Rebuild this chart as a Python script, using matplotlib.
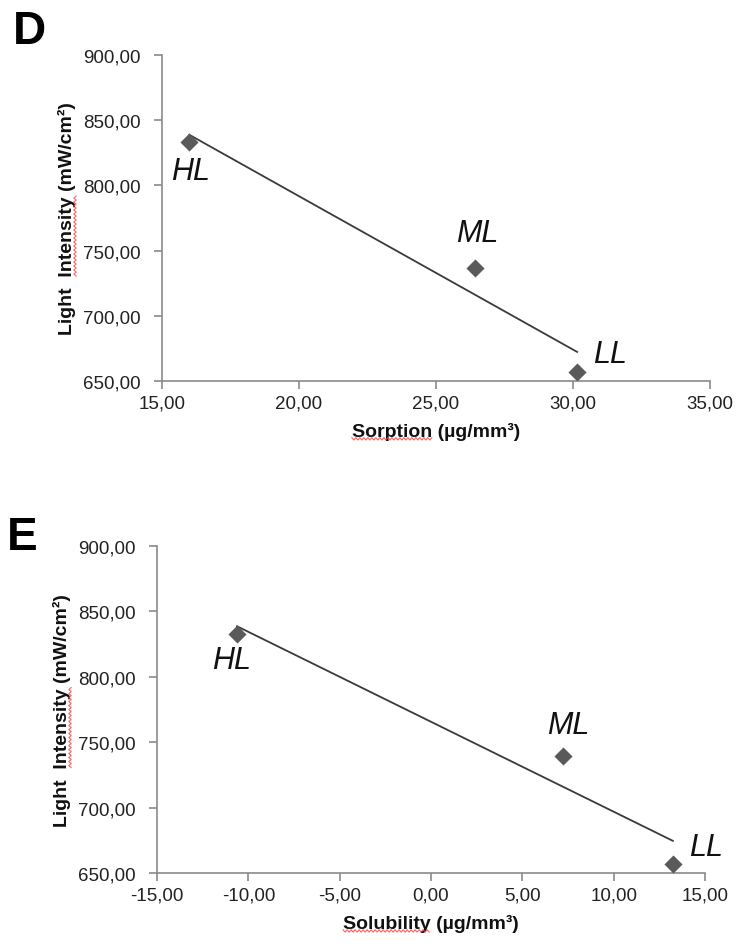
import numpy as np
import matplotlib
matplotlib.use("Agg")
import matplotlib.pyplot as plt
from matplotlib.ticker import FuncFormatter, MultipleLocator
from matplotlib.lines import Line2D
from matplotlib.transforms import IdentityTransform
from matplotlib.font_manager import FontProperties

plt.rcParams['font.family'] = ['Liberation Sans', 'DejaVu Sans']

# ---- data ----
groups = ["HL", "ML", "LL"]
sorption = [16.00, 26.42, 30.15]
solubility = [-10.62, 7.22, 13.24]
intensity_D = [833.3, 737.0, 657.0]
intensity_E = [832.7, 739.5, 657.0]
yticks = [650, 700, 750, 800, 850, 900]
xticks_D = [15, 20, 25, 30, 35]
xticks_E = [-15, -10, -5, 0, 5, 10, 15]

# label offsets (points) for each group label per panel
offs_D = [(1, -21), (2, 25), (24, 13)]
offs_E = [(-4, -19), (4, 22), (24, 12)]

W, H = 738, 945
fig = plt.figure(figsize=(W / 100, H / 100), dpi=100)

spine_c = "#8a8a8a"
fmt = FuncFormatter(lambda v, p: f"{v:.2f}".replace(".", ","))


def setup(ax, xt, xlabel, ylabel):
    for s in ["top", "right"]:
        ax.spines[s].set_visible(False)
    for s in ["left", "bottom"]:
        ax.spines[s].set_color(spine_c)
        ax.spines[s].set_linewidth(1.2)
    ax.set_xlim(xt[0], xt[-1])
    ax.set_ylim(yticks[0], yticks[-1])
    ax.set_xticks(xt)
    ax.set_yticks(yticks)
    ax.xaxis.set_major_formatter(fmt)
    ax.yaxis.set_major_formatter(fmt)
    ax.tick_params(axis="both", direction="out", length=5.5, width=1.2,
                   color=spine_c, labelsize=13.5, labelcolor="#222222")
    ax.tick_params(axis="y", pad=10)
    ax.tick_params(axis="x", pad=4)
    ax.set_xlabel(xlabel, fontsize=14, fontweight="bold", color="#111111")
    ax.set_ylabel(ylabel, fontsize=14, fontweight="bold", color="#111111")


def panel(ax, xs, ys, offs):
    ax.scatter(xs, ys, marker="D", s=85, color="#5a5a5a", zorder=3,
               clip_on=False, linewidths=0)
    k, b = np.polyfit(xs, ys, 1)
    xl = np.array([min(xs), max(xs)])
    ax.plot(xl, k * xl + b, color="#3a3a3a", lw=1.3, zorder=2)
    for g, x, y, o in zip(groups, xs, ys, offs):
        ax.annotate(g, (x, y), xytext=o, textcoords="offset points",
                    ha="center", va="center", fontsize=22, style="italic",
                    color="#111111")


axD = fig.add_axes([162 / W, 1 - 382 / H, (710 - 162) / W, 326 / H])
setup(axD, xticks_D, "Sorption (µg/mm³)", "Light  Intensity (mW/cm²)")
panel(axD, sorption, intensity_D, offs_D)

axE = fig.add_axes([157 / W, 1 - 874 / H, (705 - 157) / W, 327 / H])
setup(axE, xticks_E, "Solubility (µg/mm³)", "Light  Intensity (mW/cm²)")
panel(axE, solubility, intensity_E, offs_E)

for ax in (axD, axE):
    ax.xaxis.set_label_coords(0.5, -0.125)
    ax.yaxis.set_label_coords(-0.157, 0.5)

fig.text(13 / W, 1 - 44 / H, "D", fontsize=33, fontweight="bold",
         ha="left", va="baseline")
fig.text(7 / W, 1 - 550 / H, "E", fontsize=33, fontweight="bold",
         ha="left", va="baseline")

# ---- spell-check style red wavy underlines ----
fig.canvas.draw()
r = fig.canvas.get_renderer()


def wave_h(x0, x1, y):
    xs = np.arange(x0, x1 + 0.1, 2.0)
    ys = y + np.where(np.arange(len(xs)) % 2 == 0, 1.2, -1.2)
    fig.add_artist(Line2D(xs, ys, transform=IdentityTransform(),
                          color="#ff3b3b", lw=0.8, alpha=0.8))


def wave_v(y0, y1, x):
    ys = np.arange(y0, y1 + 0.1, 2.0)
    xs = x + np.where(np.arange(len(ys)) % 2 == 0, 1.2, -1.2)
    fig.add_artist(Line2D(xs, ys, transform=IdentityTransform(),
                          color="#ff3b3b", lw=0.8, alpha=0.8))


def tw(s, prop):
    w, h, d = r.get_text_width_height_descent(s, prop, ismath=False)
    return w, d


for ax, word in ((axD, "Sorption"), (axE, "Solubility")):
    t = ax.xaxis.label
    prop = t.get_fontproperties()
    bb = t.get_window_extent(r)
    w, d = tw(word, prop)
    wave_h(bb.x0, bb.x0 + w, bb.y0 + 1)
    ty = ax.yaxis.label
    propy = ty.get_fontproperties()
    bby = ty.get_window_extent(r)
    full = "Light  Intensity"
    wf, _ = tw(full, propy)
    wi, _ = tw("Intensity", propy)
    wave_v(bby.y0 + wf - wi, bby.y0 + wf, bby.x1 - 1)

fig.savefig("out.png", dpi=100, facecolor="white")
